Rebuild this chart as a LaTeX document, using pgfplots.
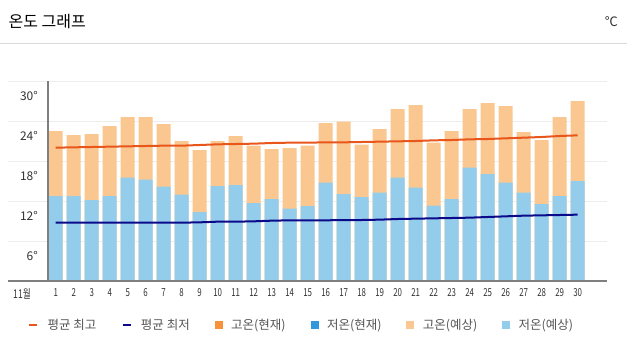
\documentclass[border=0pt]{standalone}
\usepackage{pgfplots}
\pgfplotsset{compat=1.18}
\usepackage{fontspec}
\setmainfont{Noto Sans CJK KR}
\newfontfamily\narrowfont[FakeStretch=0.72]{Noto Sans CJK KR}
\definecolor{lo}{HTML}{F9C78F}
\definecolor{lb}{HTML}{94CDEB}
\definecolor{hiline}{HTML}{E8561C}
\definecolor{lowline}{HTML}{0A0A8A}
\definecolor{curor}{HTML}{F7923A}
\definecolor{curbl}{HTML}{3199DB}
\definecolor{gridc}{HTML}{EDEDED}
\definecolor{axc}{HTML}{7F7F7F}
\definecolor{sepc}{HTML}{D9D9D9}
\definecolor{legtext}{HTML}{555555}
\begin{document}
\begin{tikzpicture}[x=1pt,y=1pt]
\useasboundingbox (0,0) rectangle (627,354);
\draw[sepc, line width=1pt] (0,310.5) -- (627,310.5);
\node[anchor=west, inner sep=0pt, font=\fontsize{16}{16}\selectfont] at (8.5,332.5) {온도 그래프};
\node[anchor=east, inner sep=0pt, font=\fontsize{13}{13}\selectfont, text=black!80] at (618,332) {℃};
\begin{axis}[
  at={(48pt,73pt)}, anchor=south west,
  scale only axis, width=559pt, height=200pt,
  xmin=0.572, xmax=31.63, ymin=0, ymax=30,
  clip=false,
  axis line style={draw=none},
  major tick length=0pt,
  ytick={6,12,18,24,30},
  yticklabels={6°,12°,18°,24°,30°},
  yticklabel style={anchor=east, inner sep=0pt, xshift=-10pt, yshift=-15pt, font=\fontsize{12}{12}\selectfont, text=black!80},
  xtick={1,...,30},
  /pgf/number format/assume math mode=true,
  xticklabel style={anchor=center, inner sep=0pt, yshift=-12pt, font=\narrowfont\fontsize{11}{11}\selectfont, text=black!80},
  legend columns=6,
  legend style={at={(axis description cs:-0.0358,-0.22)}, anchor=west, draw=none, fill=none, inner sep=0pt,
    font=\fontsize{12.5}{12.5}\selectfont, text=legtext,
    nodes={inner sep=0pt},
    /tikz/every odd column/.append style={column sep=9pt},
    /tikz/every even column/.append style={column sep=25pt}},
]
\draw[gridc, line width=1pt] (axis cs:-1.65,6) -- (axis cs:31.63,6);
\draw[gridc, line width=1pt] (axis cs:-1.65,12) -- (axis cs:31.63,12);
\draw[gridc, line width=1pt] (axis cs:-1.65,18) -- (axis cs:31.63,18);
\draw[gridc, line width=1pt] (axis cs:-1.65,24) -- (axis cs:31.63,24);
\draw[gridc, line width=1pt] (axis cs:-1.65,30) -- (axis cs:31.63,30);
\addplot[ybar, bar width=14pt, bar shift=0pt, fill=lo, draw=none, forget plot] coordinates {
(1,22.5)(2,21.9)(3,22.05)(4,23.25)(5,24.6)(6,24.6)(7,23.55)(8,21.0)(9,19.65)(10,21.0)
(11,21.75)(12,20.3)(13,19.8)(14,19.95)(15,20.3)(16,23.7)(17,23.9)(18,20.45)(19,22.8)(20,25.8)
(21,26.4)(22,20.75)(23,22.5)(24,25.8)(25,26.7)(26,26.25)(27,22.35)(28,21.15)(29,24.6)(30,27.0)};
\addplot[ybar, bar width=14pt, bar shift=0pt, fill=lb, draw=none, forget plot] coordinates {
(1,12.75)(2,12.75)(3,12.15)(4,12.75)(5,15.5)(6,15.2)(7,14.15)(8,12.95)(9,10.35)(10,14.25)
(11,14.4)(12,11.7)(13,12.3)(14,10.85)(15,11.25)(16,14.75)(17,13.05)(18,12.6)(19,13.25)(20,15.5)
(21,14.0)(22,11.3)(23,12.3)(24,17.0)(25,16.05)(26,14.75)(27,13.25)(28,11.55)(29,12.75)(30,15.0)};
\draw[axc, line width=1.6pt] (axis cs:-1.65,0) -- (axis cs:31.63,0);
\draw[axc, line width=1.5pt] (axis cs:0.572,0) -- (axis cs:0.572,30);
\addplot[hiline, line width=2pt, no markers, forget plot] coordinates {
(1,20.0)(2,20.05)(3,20.1)(4,20.15)(5,20.2)(6,20.25)(7,20.3)(8,20.3)(9,20.4)(10,20.5)
(11,20.55)(12,20.6)(13,20.7)(14,20.75)(15,20.75)(16,20.8)(17,20.8)(18,20.85)(19,20.9)(20,20.95)
(21,21.0)(22,21.1)(23,21.15)(24,21.25)(25,21.3)(26,21.4)(27,21.5)(28,21.6)(29,21.75)(30,21.85)};
\addplot[lowline, line width=2pt, no markers, forget plot] coordinates {
(1,8.75)(2,8.75)(3,8.75)(4,8.75)(5,8.75)(6,8.75)(7,8.75)(8,8.75)(9,8.8)(10,8.9)
(11,8.9)(12,8.95)(13,9.05)(14,9.1)(15,9.1)(16,9.1)(17,9.15)(18,9.15)(19,9.2)(20,9.3)
(21,9.35)(22,9.4)(23,9.45)(24,9.5)(25,9.6)(26,9.7)(27,9.8)(28,9.85)(29,9.9)(30,9.95)};
\addlegendimage{legend image code/.code={\draw[hiline, line width=2.5pt] (0pt,0pt) -- (8pt,0pt);}}
\addlegendentry{평균 최고}
\addlegendimage{legend image code/.code={\draw[lowline, line width=2.5pt] (0pt,0pt) -- (8pt,0pt);}}
\addlegendentry{평균 최저}
\addlegendimage{legend image code/.code={\fill[curor] (0pt,-3.5pt) rectangle (7pt,3.5pt);}}
\addlegendentry{고온(현재)}
\addlegendimage{legend image code/.code={\fill[curbl] (0pt,-3.5pt) rectangle (7pt,3.5pt);}}
\addlegendentry{저온(현재)}
\addlegendimage{legend image code/.code={\fill[lo] (0pt,-3.5pt) rectangle (7pt,3.5pt);}}
\addlegendentry{고온(예상)}
\addlegendimage{legend image code/.code={\fill[lb] (0pt,-3.5pt) rectangle (7pt,3.5pt);}}
\addlegendentry{저온(예상)}
\end{axis}
\node[inner sep=0pt, font=\narrowfont\fontsize{12}{12}\selectfont, text=black!80] at (22,60) {11월};
\end{tikzpicture}
\end{document}
